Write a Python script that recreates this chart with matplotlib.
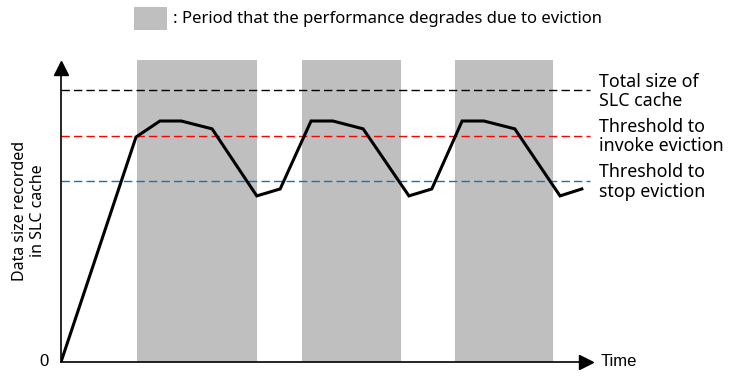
import matplotlib.pyplot as plt
from matplotlib.patches import Rectangle

# data in arbitrary units (time 0..100, size 0..100)
time_pts = [0, 14.1, 18.6, 22.6, 28.4, 36.8, 41.2, 47.0, 51.1, 56.8, 65.4, 69.7, 75.4, 79.5, 85.3, 93.8, 97.9]
size_pts = [0, 74.5, 79.8, 79.8, 77.2, 55.0, 57.3, 79.8, 79.8, 77.2, 55.0, 57.3, 79.8, 79.8, 77.2, 55.0, 57.3]

evict_periods = [(14.3, 36.8), (45.3, 63.9), (74.1, 92.5)]
thresholds = [90, 75, 60]
threshold_colors = ["black", "red", "#1f6fb0"]
threshold_labels = ["Total size of\nSLC cache", "Threshold to\ninvoke eviction", "Threshold to\nstop eviction"]

plt.rcParams["font.family"] = ["Noto Sans", "DejaVu Sans"]

fig = plt.figure(figsize=(7.56, 3.85), dpi=100)
ax = fig.add_axes([61 / 756, 23 / 385, 532 / 756, 302 / 385])
ax.set_xlim(0, 100)
ax.set_ylim(0, 100)
ax.axis("off")

for start, end in evict_periods:
    ax.add_patch(Rectangle((start, 0), end - start, 100, color="#bfbfbf", lw=0, zorder=1))

for y, c, lab in zip(thresholds, threshold_colors, threshold_labels):
    ax.plot([0, 99.4], [y, y], color=c, lw=1.0, dashes=(6, 3), zorder=2)
    ax.text(101.2, y - 0.4, lab, fontsize=12.8, va="center", ha="left",
            linespacing=1.1, clip_on=False)

ax.plot(time_pts, size_pts, color="black", lw=2.2, zorder=3, solid_joinstyle="miter")

# axes with arrows
ax.plot([0, 0], [0, 97], color="black", lw=1.2, zorder=4, clip_on=False)
ax.plot([0, 98], [0, 0], color="black", lw=1.2, zorder=4, clip_on=False)
ax.plot([0], [97.5], marker="^", color="black", ms=10, clip_on=False, zorder=4)
ax.plot([98.6], [0], marker=">", color="black", ms=10, clip_on=False, zorder=4)

ax.text(101.5, 0, "Time", fontsize=12, va="center", ha="left",
        family="Liberation Sans", clip_on=False)
ax.text(-2.3, 0, "0", fontsize=12, va="center", ha="right",
        family="Liberation Sans", clip_on=False)

fig.text(29 / 756, 1 - 211 / 385, "Data size recorded\nin SLC cache", rotation=90,
         fontsize=11.5, ha="center", va="center", linespacing=1.15)

# legend at top
fig.patches.append(Rectangle((134 / 756, 1 - 30 / 385), 33 / 756, 23 / 385,
                             transform=fig.transFigure, color="#bfbfbf", lw=0))
fig.text(173 / 756, 1 - 19 / 385, ": Period that the performance degrades due to eviction",
         fontsize=12, va="center", ha="left")

fig.savefig("out.png", dpi=100)
